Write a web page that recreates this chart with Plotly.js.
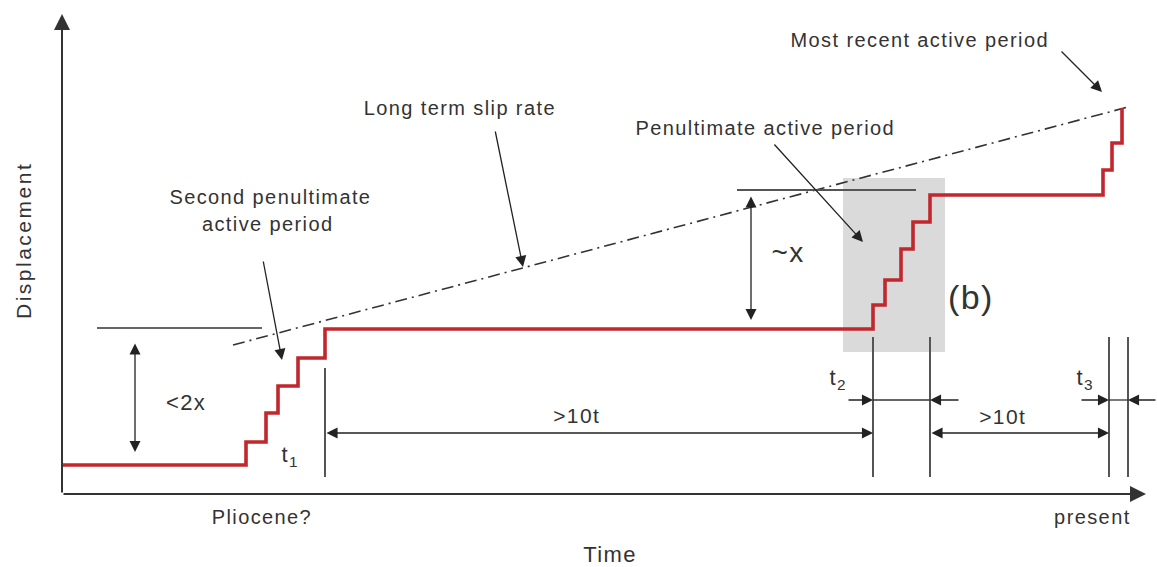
<!DOCTYPE html>
<html>
<head>
<meta charset="utf-8">
<script src="https://cdn.plot.ly/plotly-3.0.1.min.js"></script>
<style>html,body{margin:0;padding:0;background:#fff;}#chart{width:1157px;height:567px;}</style>
</head>
<body>
<div id="chart"></div>
<script>
// Schematic data (time -> right, displacement plotted on a reversed screen-like scale)
const stepTime = [62, 246, 266, 278, 298, 325, 873, 885, 901, 913, 930, 1103, 1112, 1122];
const stepDisp = [465, 442, 413, 386, 358, 329, 305, 280, 249, 222, 195, 170, 143, 108];
const slipTime = [233, 1128];
const slipDisp = [345, 107];
const refLevelLow = {x: [97, 262], y: 328};
const refLevelHigh = {x: [737, 916], y: 190};
const activeBox = {x: [843, 945], y: [178, 352]};
const periodMarks = [325, 873, 930, 1109, 1128];
const labels = [
  {t: 'Second penultimate', x: 270, y: 197},
  {t: 'active period', x: 267, y: 224},
  {t: 'Long term slip rate', x: 460, y: 108},
  {t: 'Penultimate active period', x: 765, y: 128},
  {t: 'Most recent active period', x: 919, y: 40},
  {t: '<2x', x: 186, y: 402, s: 22},
  {t: '~x', x: 788, y: 252, s: 28},
  {t: '>10t', x: 577, y: 415, s: 21},
  {t: '>10t', x: 1003, y: 416, s: 21},
  {t: 'Pliocene?', x: 262, y: 517},
  {t: 'present', x: 1092, y: 517},
  {t: 'Time', x: 610, y: 554, s: 22},
  {t: '(b)', x: 971, y: 297, s: 34},
  {t: 't<sub>1</sub>', x: 290, y: 456, s: 22},
  {t: 't<sub>2</sub>', x: 838, y: 379, s: 22},
  {t: 't<sub>3</sub>', x: 1085, y: 379, s: 22}
];

const ink = '#333333';
const font = {family: 'Liberation Sans, Arial, sans-serif', size: 20, color: ink};

const traces = [
  {x: slipTime, y: slipDisp, mode: 'lines', line: {color: '#333', width: 1.6, dash: '12px,5px,2px,5px'}, hoverinfo: 'skip'},
  {x: stepTime, y: stepDisp, mode: 'lines', line: {color: '#c1272d', width: 3.6, shape: 'hv'}, hoverinfo: 'skip'}
];

const shapes = [
  {type: 'rect', xref: 'x', yref: 'y', x0: activeBox.x[0], x1: activeBox.x[1], y0: activeBox.y[0], y1: activeBox.y[1], fillcolor: '#dadada', line: {width: 0}, layer: 'below'},
  {type: 'line', xref: 'x', yref: 'y', x0: refLevelLow.x[0], x1: refLevelLow.x[1], y0: refLevelLow.y, y1: refLevelLow.y, line: {color: '#666', width: 2}},
  {type: 'line', xref: 'x', yref: 'y', x0: refLevelHigh.x[0], x1: refLevelHigh.x[1], y0: refLevelHigh.y, y1: refLevelHigh.y, line: {color: '#555', width: 2}},
  {type: 'line', xref: 'x', yref: 'y', x0: periodMarks[0], x1: periodMarks[0], y0: 368, y1: 477, line: {color: '#555', width: 2}},
  {type: 'line', xref: 'x', yref: 'y', x0: periodMarks[1], x1: periodMarks[1], y0: 337, y1: 477, line: {color: '#555', width: 2}},
  {type: 'line', xref: 'x', yref: 'y', x0: periodMarks[2], x1: periodMarks[2], y0: 337, y1: 477, line: {color: '#555', width: 2}},
  {type: 'line', xref: 'x', yref: 'y', x0: periodMarks[3], x1: periodMarks[3], y0: 337, y1: 477, line: {color: '#555', width: 2}},
  {type: 'line', xref: 'x', yref: 'y', x0: periodMarks[4], x1: periodMarks[4], y0: 337, y1: 477, line: {color: '#555', width: 2}},
  {type: 'line', xref: 'x', yref: 'y', x0: periodMarks[1], x1: periodMarks[2], y0: 400, y1: 400, line: {color: ink, width: 1.3}},
  {type: 'line', xref: 'x', yref: 'y', x0: periodMarks[3], x1: periodMarks[4], y0: 400, y1: 400, line: {color: ink, width: 1.3}}
];

function arrow(x, y, ax, ay, opts) {
  return Object.assign({x: x, y: y, ax: ax, ay: ay, xref: 'x', yref: 'y', axref: 'x', ayref: 'y', text: '', showarrow: true,
    arrowhead: 2, arrowsize: 1.7, arrowwidth: 1.3, arrowcolor: '#222', standoff: 0, startstandoff: 0}, opts || {});
}

const annotations = [
  // main axes
  arrow(62, 14, 62, 494, {arrowwidth: 2, arrowsize: 1.6, arrowcolor: '#333'}),
  arrow(1146, 494, 62, 494, {arrowwidth: 2, arrowsize: 1.6, arrowcolor: '#333'}),
  // pointer arrows
  arrow(282, 360, 263, 260),
  arrow(523, 267, 495, 130),
  arrow(863, 242, 773, 143),
  arrow(1102, 92, 1060, 50),
  // double arrows
  arrow(135, 452, 135, 342, {arrowside: 'end+start'}),
  arrow(751, 320, 751, 195, {arrowside: 'end+start'}),
  arrow(periodMarks[1], 433, periodMarks[0], 433, {arrowside: 'end+start'}),
  arrow(periodMarks[3], 433, periodMarks[2], 433, {arrowside: 'end+start'}),
  // short interval arrows
  arrow(periodMarks[1], 400, 847, 400),
  arrow(periodMarks[2], 400, 960, 400),
  arrow(periodMarks[3], 400, 1080, 400),
  arrow(periodMarks[4], 400, 1157, 400),
  // y label
  {x: 23, y: 241, xref: 'x', yref: 'y', text: 'Displacement', showarrow: false, textangle: -90, font: Object.assign({}, font, {size: 21})}
];
labels.forEach(l => annotations.push({x: l.x, y: l.y, xref: 'x', yref: 'y', text: l.t, showarrow: false, xanchor: 'center', yanchor: 'middle',
  font: Object.assign({}, font, {size: l.s || 20})}));

const layout = {
  width: 1157, height: 567, margin: {l: 0, r: 0, t: 0, b: 0},
  paper_bgcolor: '#fff', plot_bgcolor: '#fff', showlegend: false,
  xaxis: {range: [0, 1157], visible: false, fixedrange: true},
  yaxis: {range: [567, 0], visible: false, fixedrange: true},
  shapes: shapes, annotations: annotations
};
Plotly.newPlot('chart', traces, layout, {staticPlot: true, displayModeBar: false}).then(gd => {
  // widen lettering to match the stretched type of the original figure
  gd.querySelectorAll('.annotation-text').forEach(t => {
    const txt = t.textContent;
    t.style.letterSpacing = txt === 'Displacement' ? '2.5px' : '1.4px';
  });
});
</script>
</body>
</html>
